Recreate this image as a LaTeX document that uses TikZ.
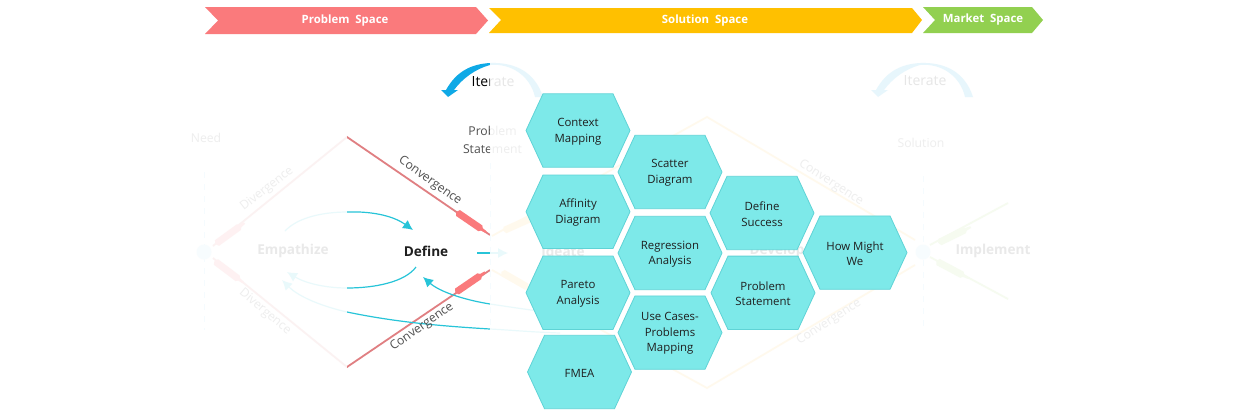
\documentclass[tikz,border=0pt]{standalone}
\usepackage{fontspec}
\setmainfont{Open Sans}
\usetikzlibrary{arrows.meta}
\definecolor{hexfill}{HTML}{7DE9E9}
\definecolor{hexline}{HTML}{5FD3D6}
\definecolor{cyanline}{HTML}{27C4D8}
\definecolor{redline}{HTML}{E07F82}
\definecolor{redfill}{HTML}{FA7A7C}
\definecolor{yelline}{HTML}{FFC94D}
\definecolor{greenline}{HTML}{A5D86A}
\definecolor{iterblue}{HTML}{0FA9E6}
\definecolor{dark}{HTML}{1F1F1F}
\definecolor{grey}{HTML}{505050}
\definecolor{bannery}{HTML}{FFC000}
\definecolor{bannerg}{HTML}{92D050}
\tikzset{
  x=0.5pt,y=-0.5pt,
  hexshape/.style={fill=hexfill,draw=hexline,line width=0.4pt},
  hexlabel/.style={align=center,font=\fontsize{5.7}{7.8}\selectfont,text=dark,inner sep=0pt},
  lab/.style={align=center,font=\fontsize{6.1}{8.9}\selectfont,text=grey,inner sep=0pt},
  boldlab/.style={font=\fontsize{6.8}{8}\selectfont\bfseries,text=dark,inner sep=0pt},
  iterlab/.style={font=\fontsize{7}{8}\selectfont,text=black,inner sep=0pt},
  banner/.style={font=\fontsize{5.7}{7}\selectfont\bfseries,text=white,inner sep=0pt},
  curve/.style={draw=cyanline,line width=0.6pt},
  curvetip/.style={curve,-{Latex[length=5pt,width=5pt]}},
  guide/.style={draw=cyan!40,line width=0.5pt,dashed},
}
\newcommand{\hexa}[4]{%
  \path[hexshape] (#2-52,#3) -- (#2-35,#3-36.7) -- (#2+35,#3-36.7) -- (#2+52,#3) -- (#2+35,#3+36.7) -- (#2-35,#3+36.7) -- cycle;
  \node[hexlabel] (#1) at (#2,#3+1) {#4};}
\newcommand{\pencil}[4]{%
  \begin{scope}[shift={(#1,#2)},rotate=#3]
  \fill[#4] (-2,0) -- (0,-3.5) -- (27,-3.5) -- (29,-1.5) -- (34,-1) -- (34,1) -- (29,1.5) -- (27,3.5) -- (0,3.5) -- cycle;
  \end{scope}}
\newcommand{\iterarc}[1]{%
  \begin{scope}[xshift=#1*0.5pt]
  \fill[iterblue] (543,97) .. controls (535,72) and (515,62) .. (490,63)
    .. controls (473,64) and (457,70) .. (446,90) -- (441,90) -- (448,97) -- (458,90) -- (454,90)
    .. controls (462,79) and (475,69) .. (490,65) .. controls (510,63) and (530,75) .. (535,97) -- cycle;
  \end{scope}}
\begin{document}
\begin{tikzpicture}
\useasboundingbox (0,0) rectangle (1240,418);
\fill[white] (0,0) rectangle (1240,418);
% guides
\draw[guide] (204,172) -- (204,330);
\draw[guide] (490,163) -- (490,330);
\draw[guide] (923,176) -- (923,330);
\fill[cyan!30] (204,252) circle (7.5);
\fill[cyan!30] (923,252) circle (7.5);
% diamonds
\draw[redline,line width=0.9pt] (213,246) -- (347,137) -- (490,235);
\draw[redline,line width=0.9pt] (213,258) -- (347,367) -- (490,270);
\pencil{217}{243}{36}{redfill}
\pencil{216}{262}{-37}{redfill}
\pencil{458}{213}{-34.4}{redfill}
\pencil{457}{291.5}{34.4}{redfill}
\draw[yelline,line width=0.9pt] (492,236) -- (707,117) -- (915,240);
\draw[yelline,line width=0.9pt] (492,270) -- (707,388) -- (915,265);
\pencil{505}{230}{24}{yelline}
\pencil{503}{273}{-30}{yelline}
\draw[greenline,line width=0.9pt] (930,245) -- (1008,203);
\draw[greenline,line width=0.9pt] (930,257) -- (1008,299);
\pencil{940}{242}{26}{greenline}
\pencil{938}{262}{-28}{greenline}
% iterate arcs
\iterarc{0}
\iterarc{430}
% cyan curves
\draw[curvetip] (285,231) .. controls (300,215) and (330,212) .. (347,212) .. controls (375,211) and (395,217) .. (413,230);
\draw[curvetip] (416,267) .. controls (405,282) and (375,288) .. (347,288) .. controls (325,288) and (305,283) .. (287,272);
\draw[curvetip] (560,314) .. controls (530,310) and (510,307) .. (490,304) .. controls (465,300) and (440,292) .. (423,277);
\draw[curvetip] (560,333) .. controls (530,332) and (510,330) .. (490,329) .. controls (440,326) and (395,322) .. (347,312) .. controls (325,307) and (300,298) .. (282,280);
\draw[curvetip] (477,253) -- (508,253);
% labels
\node[lab,rotate=38] (div1) at (267,189) {Divergence};
\node[lab,rotate=-40] (div2) at (265,312) {Divergence};
\node[lab,rotate=-35.4] (con1) at (430,181) {Convergence};
\node[lab,rotate=35] (con2) at (422,327) {Convergence};
\node[lab,rotate=-33] (con3) at (831,183) {Convergence};
\node[lab,rotate=33] (con4) at (829,322) {Convergence};
\node[lab] (need) at (206,138) {Need};
\node[lab] (prob) at (492.5,140) {Problem\\Statement};
\node[lab] (sol) at (921,143) {Solution};
\node[boldlab] (emp) at (293,251) {Empathize};
\node[boldlab] (def) at (426,251) {Define};
\node[boldlab] (ide) at (563,251) {Ideate};
\node[boldlab] (dev) at (777,251) {Develop};
\node[boldlab] (imp) at (993,251) {Implement};
\node[iterlab] (it1) at (493,82) {Iterate};
\node[iterlab] (it2) at (925,81) {Iterate};
% fading veils
\fill[white,opacity=0.9] (0,40) rectangle (347,418);
\fill[white,opacity=0.9] (490,40) rectangle (1240,418);
% banners
\fill[redfill] (205,7) -- (476,7) -- (488,20.5) -- (476,34) -- (205,34) -- (218,20.5) -- cycle;
\fill[bannery] (489,8) -- (912,8) -- (922,20) -- (912,33) -- (489,33) -- (501,20) -- cycle;
\fill[bannerg] (923,7) -- (1032,7) -- (1043,20) -- (1032,33) -- (923,33) -- (935,20) -- cycle;
\node[banner] (b1) at (345,21) {Problem\ \ Space};
\node[banner] (b2) at (705,20.5) {Solution\ \ Space};
\node[banner] (b3) at (983,20) {Market\ \ Space};
% hexagons
\hexa{h1}{578}{130.5}{Context\\Mapping}
\hexa{h2}{578}{211.7}{Affinity\\Diagram}
\hexa{h3}{578}{292.7}{Pareto\\Analysis}
\hexa{h4}{579.5}{372}{FMEA}
\hexa{h5}{670}{172}{Scatter\\Diagram}
\hexa{h6}{670}{253}{Regression\\Analysis}
\hexa{h7}{670}{332.6}{Use Cases-\\Problems\\Mapping}
\hexa{h8}{762}{213}{Define\\Success}
\hexa{h9}{763}{292.8}{Problem\\Statement}
\hexa{h10}{855}{252.6}{How Might\\We}
\end{tikzpicture}
\end{document}
